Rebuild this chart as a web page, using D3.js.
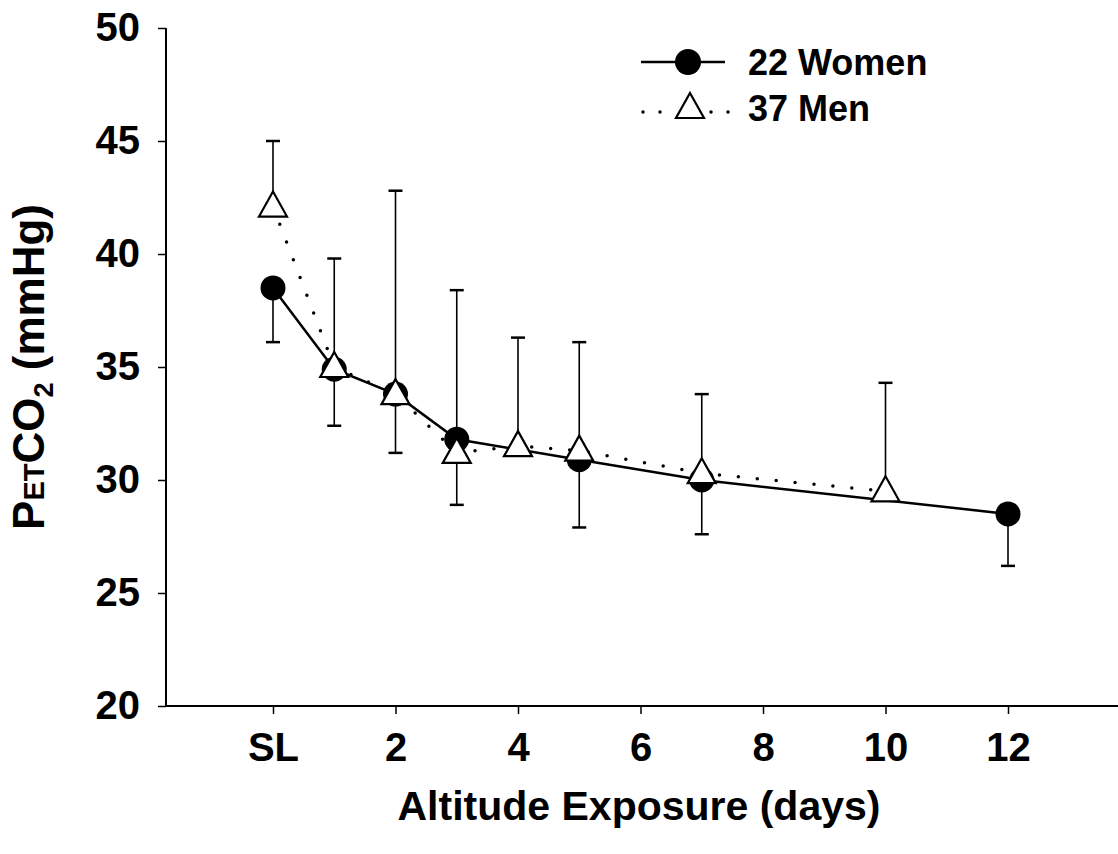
<!DOCTYPE html>
<head>
    <meta charset="utf-8">
    <title>PetCO2 at altitude</title>
    <script src="https://cdn.jsdelivr.net/npm/d3@7"></script>
</head>

<style>
    body { margin: 0; background: white; }
    text { font-family: "Liberation Sans", Arial, sans-serif; font-weight: bold; fill: black; }
</style>

<body>
<svg id="chart" width="1118" height="854"></svg>
</body>

<script>
    // x tick labels (SL = sea level, day 0)
    var xTickDays = [0, 2, 4, 6, 8, 10, 12]
    var xTickLabels = ["SL", "2", "4", "6", "8", "10", "12"]
    var yTicks = [20, 25, 30, 35, 40, 45, 50]

    // 22 women, mean and lower SD
    var womenDays = [0, 1, 2, 3, 5, 7, 12]
    var womenMean = [38.5, 34.9, 33.8, 31.8, 30.9, 30.0, 28.5]
    var womenLow = [36.1, 32.4, 31.2, 28.9, 27.9, 27.6, 26.2]

    // 37 men, mean and upper SD
    var menDays = [0, 1, 2, 3, 4, 5, 7, 10]
    var menMean = [42.1, 35.0, 33.8, 31.2, 31.5, 31.3, 30.3, 29.5]
    var menHigh = [45.0, 39.8, 42.8, 38.4, 36.3, 36.1, 33.8, 34.3]

    var svg = d3.select("#chart")
    var x = d3.scaleLinear().domain([0, 12]).range([273, 1008])
    var y = d3.scaleLinear().domain([20, 50]).range([706, 28])
    var axisX = 166

    var women = womenDays.map((d, i) => ({day: d, v: womenMean[i], e: womenLow[i]}))
    var men = menDays.map((d, i) => ({day: d, v: menMean[i], e: menHigh[i]}))

    // axes
    var yAxis = d3.axisLeft(y).tickValues(yTicks).tickSize(8).tickFormat(d3.format("d"))
    var gy = svg.append("g").attr("transform", "translate(" + axisX + ",0)").call(yAxis)
    gy.select(".domain").attr("d", "M0," + y(50) + "V" + y(20)).attr("stroke-width", 2)
    gy.selectAll(".tick line").attr("stroke-width", 1.5)
    gy.selectAll(".tick text").attr("x", -26).style("font-size", "40px")
        .style("font-family", "'Liberation Sans', Arial, sans-serif").style("font-weight", "bold")

    var xAxis = d3.axisBottom(x).tickValues(xTickDays).tickSize(8)
        .tickFormat((d, i) => xTickLabels[i])
    var gx = svg.append("g").attr("transform", "translate(0," + y(20) + ")").call(xAxis)
    gx.select(".domain").attr("d", "M" + axisX + ",0H1118").attr("stroke-width", 2)
    gx.selectAll(".tick line").attr("stroke-width", 1.5)
    gx.selectAll(".tick text").attr("y", 27).style("font-size", "40px")
        .style("font-family", "'Liberation Sans', Arial, sans-serif").style("font-weight", "bold")

    // axis titles
    svg.append("text")
        .attr("x", 639).attr("y", 820)
        .attr("text-anchor", "middle")
        .style("font-size", "41px")
        .text("Altitude Exposure (days)")

    var yl = svg.append("text")
        .attr("transform", "translate(44,367) rotate(-90)")
        .attr("text-anchor", "middle")
        .style("font-size", "44px")
    yl.append("tspan").text("P")
    yl.append("tspan").style("font-size", "29px").text("ET")
    yl.append("tspan").text("CO")
    yl.append("tspan").style("font-size", "27px").attr("dy", 9).text("2")
    yl.append("tspan").attr("dy", -9).text(" (mmHg)")

    // lines
    var line = d3.line().x(d => x(d.day)).y(d => y(d.v))
    svg.append("path").datum(women).attr("d", line)
        .attr("fill", "none").attr("stroke", "black").attr("stroke-width", 2.5)
    svg.append("path").datum(men).attr("d", line)
        .attr("fill", "none").attr("stroke", "black").attr("stroke-width", 3.5)
        .attr("stroke-linecap", "round").attr("stroke-dasharray", "0 19")

    // error bars
    function errBars(data) {
        var g = svg.append("g").attr("stroke", "black").attr("stroke-width", 1.6)
        g.selectAll("line.v").data(data).enter().append("line")
            .attr("x1", d => x(d.day)).attr("x2", d => x(d.day))
            .attr("y1", d => y(d.v)).attr("y2", d => y(d.e))
        g.selectAll("line.c").data(data).enter().append("line")
            .attr("x1", d => x(d.day) - 7).attr("x2", d => x(d.day) + 7)
            .attr("y1", d => y(d.e)).attr("y2", d => y(d.e)).attr("stroke-width", 2.5)
    }
    errBars(women)
    errBars(men)

    // markers
    var tri = "M0,-15L14,10L-14,10Z"
    svg.selectAll("circle.w").data(women).enter().append("circle")
        .attr("cx", d => x(d.day)).attr("cy", d => y(d.v)).attr("r", 12.5)
        .attr("fill", "black")
    svg.selectAll("path.m").data(men).enter().append("path")
        .attr("d", tri)
        .attr("transform", d => "translate(" + x(d.day) + "," + y(d.v) + ")")
        .attr("fill", "white").attr("stroke", "black").attr("stroke-width", 2.2)

    // legend
    var leg = svg.append("g")
    leg.append("line").attr("x1", 641).attr("x2", 725).attr("y1", 62).attr("y2", 62)
        .attr("stroke", "black").attr("stroke-width", 2.5)
    leg.append("circle").attr("cx", 688).attr("cy", 62).attr("r", 13).attr("fill", "black")
    leg.append("text").attr("x", 748).attr("y", 75).style("font-size", "36px").text("22 Women")
    ;[[643, 662], [711, 730]].forEach(function(s) {
        leg.append("line").attr("x1", s[0]).attr("x2", s[1]).attr("y1", 112).attr("y2", 112)
            .attr("stroke", "black").attr("stroke-width", 3.5)
            .attr("stroke-linecap", "round").attr("stroke-dasharray", "0 17")
    })
    leg.append("path").attr("d", tri).attr("transform", "translate(690,108)")
        .attr("fill", "white").attr("stroke", "black").attr("stroke-width", 2.2)
    leg.append("text").attr("x", 748).attr("y", 121).style("font-size", "36px").text("37 Men")
</script>
</html>
